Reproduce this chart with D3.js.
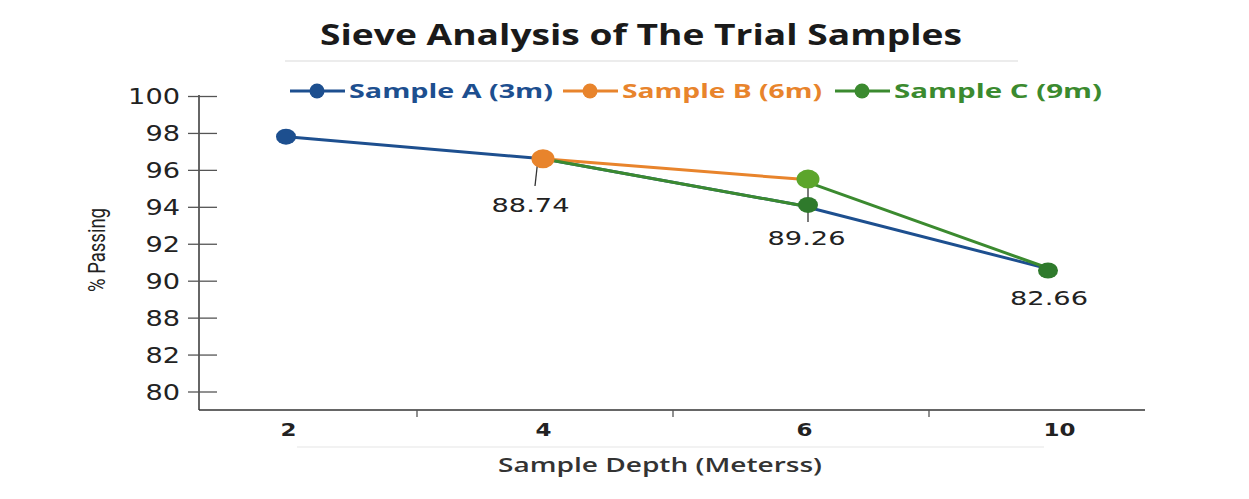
<!DOCTYPE html>
<html><head><meta charset="utf-8">
<script src="https://cdn.jsdelivr.net/npm/d3@7"></script>
<style>body{margin:0;background:#fff}svg{display:block}</style>
</head><body>
<svg id="c" width="1249" height="499"></svg>
<script>
const categories = ["2", "4", "6", "10"];
const yTickValues = [100, 98, 96, 94, 92, 90, 88, 86, 84];
const yTickLabels = ["100", "98", "96", "94", "92", "90", "88", "82", "80"];
const seriesNames = ["Sample A (3m)", "Sample B (6m)", "Sample C (9m)"];
const sampleA = [97.8, 96.6, 94.1, 90.55];
const sampleB = [null, 96.6, 95.5, null];
const sampleC = [null, 96.6, 94.1, null];
const sampleCTail = [null, null, 95.5, 90.55];
const annotCats = ["4", "6", "10"];
const annotLabels = ["88.74", "89.26", "82.66"];

const colors = {A: "#1d4f8f", B: "#e8842c", C: "#3b8a2f", Clight: "#5ca52b", Cdark: "#2f7a2c"};

const svg = d3.select("#c");
const x = d3.scalePoint().domain(categories).range([287, 1055]);
const y = d3.scaleLinear().domain([84, 100]).range([391.5, 96]);
const sans = "'Open Sans', Lato, sans-serif";

// Title
svg.append("text").attr("x", 641).attr("y", 45).attr("text-anchor", "middle")
  .attr("font-family", sans).attr("font-weight", 700).attr("font-size", 29)
  .attr("textLength", 642).attr("lengthAdjust", "spacingAndGlyphs")
  .attr("fill", "#1a1a1a").text("Sieve Analysis of The Trial Samples");
svg.append("line").attr("x1", 285).attr("x2", 1018).attr("y1", 61).attr("y2", 61)
  .attr("stroke", "#e6e6e6").attr("stroke-width", 1.5);

// Legend
const legend = [
  {name: seriesNames[0], color: colors.A, x: 290, w: 204},
  {name: seriesNames[1], color: colors.B, x: 563, w: 200},
  {name: seriesNames[2], color: colors.C, x: 835, w: 208}
];
const lg = svg.append("g").selectAll("g").data(legend).join("g")
  .attr("transform", d => `translate(${d.x},91)`);
lg.append("line").attr("x1", 0).attr("x2", 55).attr("stroke", d => d.color).attr("stroke-width", 3);
lg.append("circle").attr("cx", 27).attr("r", 7.5).attr("fill", d => d.color);
lg.append("text").attr("x", 59).attr("y", 7).attr("font-family", sans)
  .attr("font-weight", 700).attr("font-size", 19).attr("fill", d => d.color)
  .attr("textLength", d => d.w).attr("lengthAdjust", "spacingAndGlyphs").text(d => d.name);

// Y axis
const yAxis = svg.append("g").attr("transform", "translate(199,0)")
  .call(d3.axisLeft(y).tickValues(yTickValues).tickFormat((d, i) => yTickLabels[i]).tickSize(0).tickPadding(19));
yAxis.select(".domain").attr("stroke", "#333").attr("stroke-width", 1.5).attr("d", "M0,95V410");
yAxis.selectAll(".tick line").attr("x1", -11).attr("x2", 18).attr("stroke", "#555").attr("stroke-width", 1.3);
yAxis.selectAll(".tick text").attr("font-family", "'DejaVu Sans', sans-serif").attr("font-size", 21)
  .attr("fill", "#222").attr("dy", "0.36em")
  .attr("textLength", (d, i) => yTickLabels[i].length * 17.3).attr("lengthAdjust", "spacingAndGlyphs");

// X axis
const xAxis = svg.append("g").attr("transform", "translate(0,410)")
  .call(d3.axisBottom(x).tickSize(0).tickPadding(0));
xAxis.select(".domain").attr("stroke", "#333").attr("stroke-width", 1.5).attr("d", "M199,0H1145");
xAxis.selectAll(".tick text").attr("font-family", "'DejaVu Sans', sans-serif").attr("font-weight", 700)
  .attr("font-size", 18).attr("fill", "#222").attr("y", 26).attr("dy", 0)
  .attr("dx", (d, i) => [1, 0, 5, 4][i])
  .attr("textLength", d => d.length * 16).attr("lengthAdjust", "spacingAndGlyphs");
const step = x.step();
xAxis.selectAll(".midtick").data(categories.slice(0, -1)).join("line").attr("class", "midtick")
  .attr("x1", d => x(d) + step / 2 + 2).attr("x2", d => x(d) + step / 2 + 2)
  .attr("y1", 0).attr("y2", 7).attr("stroke", "#555").attr("stroke-width", 1.3);
svg.append("line").attr("x1", 297).attr("x2", 1044).attr("y1", 447).attr("y2", 447)
  .attr("stroke", "#eeeeee").attr("stroke-width", 1.5);

// Axis titles
svg.append("text").attr("transform", "translate(105,250) rotate(-90)").attr("text-anchor", "middle")
  .attr("font-family", "Roboto, sans-serif").attr("font-size", 23).attr("fill", "#222")
  .attr("textLength", 84).attr("lengthAdjust", "spacingAndGlyphs").text("% Passing");
svg.append("text").attr("x", 660).attr("y", 472).attr("text-anchor", "middle")
  .attr("font-family", sans).attr("font-weight", 600).attr("font-size", 19).attr("fill", "#333")
  .attr("textLength", 324).attr("lengthAdjust", "spacingAndGlyphs")
  .text("Sample Depth (Meterss)");

// Lines
const line = d3.line().defined(d => d.v != null).x(d => x(d.c)).y(d => y(d.v));
const toPts = arr => arr.map((v, i) => ({c: categories[i], v}));
const paths = [
  {data: sampleA, color: colors.A},
  {data: sampleB, color: colors.B},
  {data: sampleC, color: colors.C},
  {data: sampleCTail, color: colors.C}
];
svg.append("g").selectAll("path").data(paths).join("path")
  .attr("d", d => line(toPts(d.data))).attr("fill", "none")
  .attr("stroke", d => d.color).attr("stroke-width", 3).attr("stroke-linecap", "round");

// Annotation leaders
svg.append("line").attr("x1", x("4") - 5).attr("y1", y(sampleB[1])).attr("x2", x("4") - 8).attr("y2", 186)
  .attr("stroke", "#333").attr("stroke-width", 1.3);
svg.append("line").attr("x1", x("6") + 9).attr("y1", y(sampleCTail[2])).attr("x2", x("6") + 9).attr("y2", 222)
  .attr("stroke", "#333").attr("stroke-width", 1.3);

// Markers
const markers = [
  {c: "2", v: sampleA[0], color: colors.A, r: 9},
  {c: "4", v: sampleB[1], color: colors.B, r: 10.5},
  {c: "6", v: sampleCTail[2], color: colors.Clight, r: 10.5},
  {c: "6", v: sampleC[2], color: colors.Cdark, r: 9},
  {c: "10", v: sampleCTail[3], color: colors.Cdark, r: 9}
];
svg.append("g").selectAll("ellipse").data(markers).join("ellipse")
  .attr("cx", d => x(d.c) + (d.c === "6" ? 9 : d.c === "10" ? -7 : d.c === "2" ? -1 : 0))
  .attr("cy", d => y(d.v)).attr("rx", d => d.r + 1).attr("ry", d => d.r - 1).attr("fill", d => d.color);

// Annotation labels
const annotPos = {"4": [-12.5, 212], "6": [7.5, 245], "10": [-6, 305]};
svg.append("g").selectAll("text").data(annotCats).join("text")
  .attr("x", (d) => x(d) + annotPos[d][0]).attr("y", d => annotPos[d][1])
  .attr("text-anchor", "middle").attr("font-family", "'DejaVu Sans', sans-serif").attr("font-size", 20)
  .attr("textLength", 78).attr("lengthAdjust", "spacingAndGlyphs")
  .attr("fill", "#222").text((d, i) => annotLabels[i]);
</script>
</body></html>
